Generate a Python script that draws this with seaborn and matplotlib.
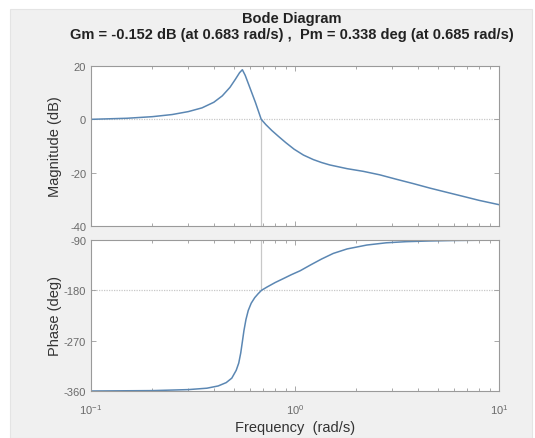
import numpy as np
import pandas as pd
import matplotlib
matplotlib.use("Agg")
import matplotlib.pyplot as plt
from matplotlib.patches import Rectangle
from matplotlib.ticker import LogLocator, NullFormatter, FixedLocator
import seaborn as sns

# ---- data ----
mag_freq = [0.10, 0.15, 0.20, 0.25, 0.30, 0.35, 0.40, 0.44, 0.48, 0.51, 0.535, 0.552,
            0.57, 0.60, 0.64, 0.683, 0.72, 0.77, 0.83, 0.90, 0.99, 1.1, 1.23, 1.35,
            1.48, 1.8, 2.16, 2.6, 3.15, 3.8, 4.59, 5.5, 6.68, 8.0, 10.0]
mag_db = [0.0, 0.4, 1.0, 1.8, 2.9, 4.3, 6.4, 8.8, 12.0, 15.0, 17.5, 18.6,
          16.5, 12.0, 6.3, 0.0, -2.0, -4.2, -6.4, -8.7, -11.2, -13.4, -15.1, -16.2,
          -17.1, -18.5, -19.5, -20.8, -22.5, -24.1, -25.8, -27.3, -28.9, -30.4, -32.0]

ph_freq = [0.10, 0.20, 0.30, 0.37, 0.42, 0.46, 0.49, 0.515, 0.53, 0.542, 0.552, 0.562,
           0.575, 0.59, 0.61, 0.635, 0.66, 0.685, 0.73, 0.80, 0.877, 0.96, 1.06, 1.2,
           1.35, 1.54, 1.8, 2.25, 2.8, 3.5, 4.5, 6.0, 8.0, 10.0]
ph_deg = [-360, -359.3, -357.5, -355, -351, -345, -337, -323, -310, -292, -272, -252,
          -232, -216, -203, -193, -186, -180, -174, -166, -159, -152, -145, -134,
          -124, -114, -106, -99, -95, -93, -91.8, -90.9, -90.4, -90.2]

title_line1 = "Bode Diagram"
title_line2 = "Gm = -0.152 dB (at 0.683 rad/s) ,  Pm = 0.338 deg (at 0.685 rad/s)"
wc = 0.683
mag_ticks = [20, 0, -20, -40]
ph_ticks = [-90, -180, -270, -360]

sns.set_theme(style="white")
plt.rcParams['font.family'] = ['Liberation Sans', 'DejaVu Sans']
plt.rcParams['axes.unicode_minus'] = False

fig = plt.figure(figsize=(5.35, 4.39), dpi=100)
fig.patch.set_facecolor('white')
fig.patches.append(Rectangle((10/535, 0), 522/535, 429/439, transform=fig.transFigure,
                             facecolor='#f0f0f0', edgecolor='#e4e4e4', lw=0.8, zorder=-10))

ax1 = fig.add_axes([91/535, 1-227/439, 408/535, 160/439])
ax2 = fig.add_axes([91/535, 1-392/439, 408/535, 151/439])

line_color = '#5b87b3'
grid_col = '#c8c8c8'
axis_col = '#9a9a9a'

mag_df = pd.DataFrame({'freq': mag_freq, 'mag': mag_db})
ph_df = pd.DataFrame({'freq': ph_freq, 'ph': ph_deg})
sns.lineplot(data=mag_df, x='freq', y='mag', ax=ax1, color=line_color, lw=1.1)
sns.lineplot(data=ph_df, x='freq', y='ph', ax=ax2, color=line_color, lw=1.1)

for ax, ticks, lim in [(ax1, mag_ticks, (-40, 20)), (ax2, ph_ticks, (-360, -90))]:
    ax.set_xscale('log')
    ax.set_xlim(0.1, 10)
    ax.set_ylim(*lim)
    ax.set_facecolor('white')
    ax.yaxis.set_major_locator(FixedLocator(ticks))
    ax.xaxis.set_major_locator(LogLocator(base=10, numticks=10))
    ax.xaxis.set_minor_locator(LogLocator(base=10, subs=np.arange(2, 10), numticks=20))
    ax.xaxis.set_minor_formatter(NullFormatter())
    ax.tick_params(which='both', direction='in', top=True, right=True, bottom=True, left=True,
                   colors=axis_col, labelcolor='#6a6a6a', labelsize=8, width=0.6)
    ax.tick_params(which='major', length=3.5)
    ax.tick_params(which='minor', length=2)
    ax.tick_params(axis='x', pad=8)
    for s in ax.spines.values():
        s.set_color(axis_col)
        s.set_linewidth(0.8)
    ax.set_xlabel('')
    ax.set_ylabel('')

ax1.set_xticklabels([])
ax1.axhline(0, color=grid_col, lw=0.9, ls=(0, (1, 1)), zorder=0)
ax1.axvline(wc, ymin=0, ymax=40/60, color=grid_col, lw=0.9, zorder=0)
ax2.axhline(-180, color=grid_col, lw=0.9, ls=(0, (1, 1)), zorder=0)
ax2.axvline(wc, ymin=180/270, ymax=1, color=grid_col, lw=0.9, zorder=0)

ax1.set_ylabel('Magnitude (dB)', fontsize=10.5, color='#333333')
ax2.set_ylabel('Phase (deg)', fontsize=10.5, color='#333333')
ax2.set_xlabel('Frequency  (rad/s)', fontsize=10.5, color='#333333', labelpad=3)
ax1.yaxis.set_label_coords(-0.072, 0.5)
ax2.yaxis.set_label_coords(-0.072, 0.5)

fig.text(292/535, 1-19/439, title_line1, ha='center', va='center', fontsize=10.5,
         fontweight='bold', color='#222222')
fig.text(292/535, 1-35/439, title_line2, ha='center', va='center', fontsize=10.5,
         fontweight='bold', color='#222222')

fig.savefig('out.png', dpi=100, facecolor=fig.get_facecolor())
